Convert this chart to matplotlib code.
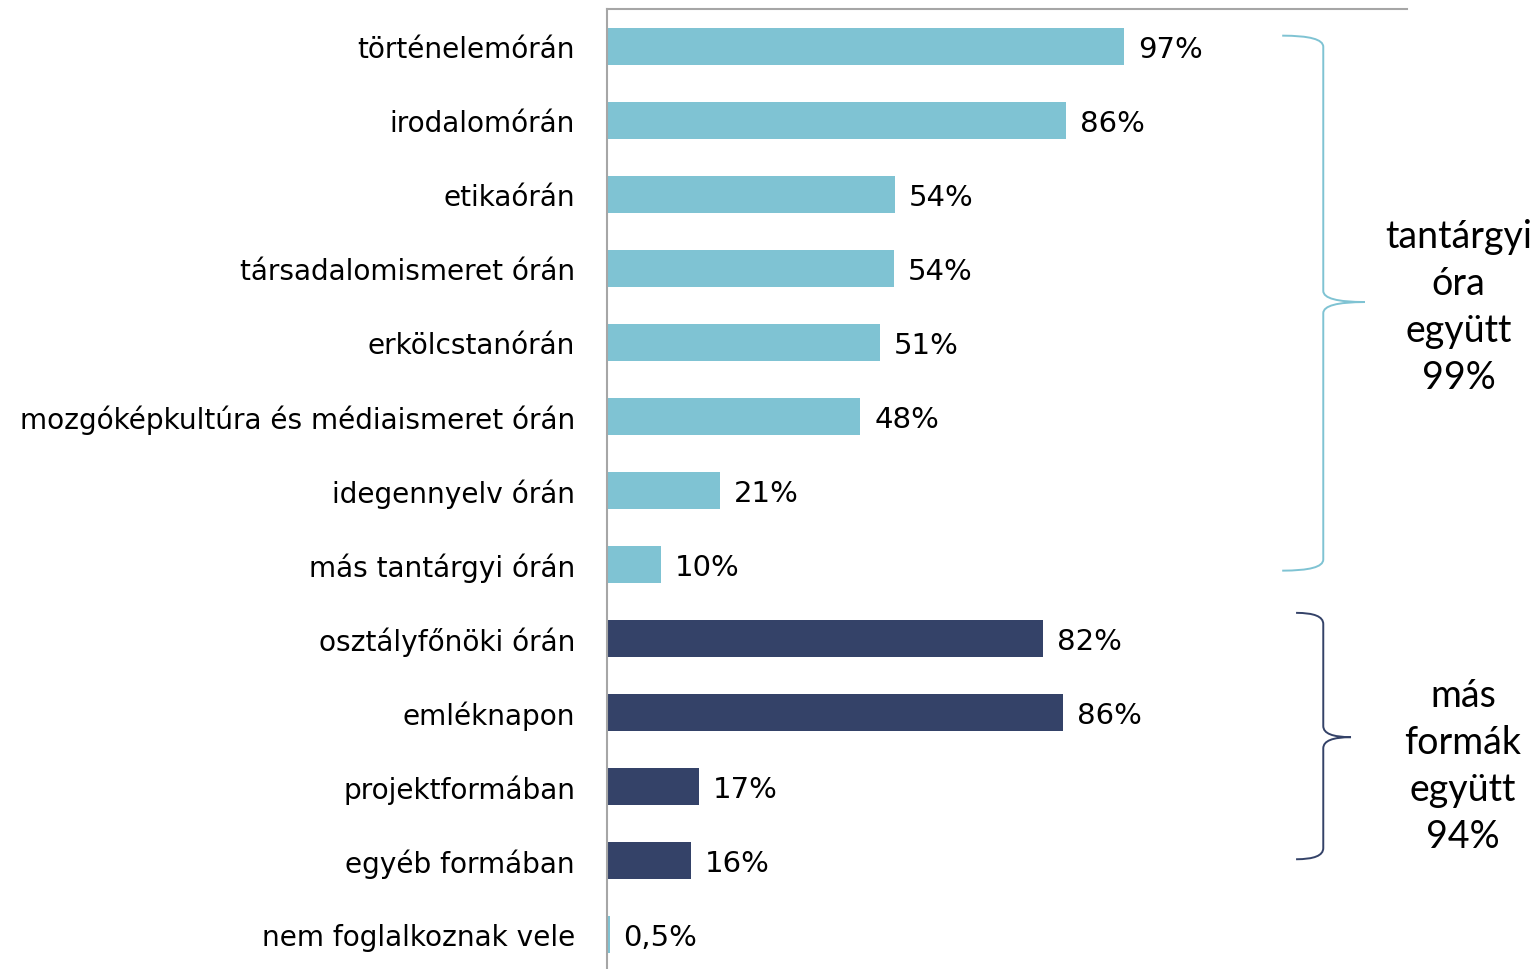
import matplotlib.pyplot as plt
from matplotlib.path import Path
from matplotlib.patches import PathPatch

# ── Data ────────────────────────────────────────────────────────────────────
categories = [
    "történelemórán", "irodalomórán", "etikaórán", "társadalomismeret órán",
    "erkölcstanórán", "mozgóképkultúra és médiaismeret órán", "idegennyelv órán",
    "más tantárgyi órán", "osztályfőnöki órán", "emléknapon", "projektformában",
    "egyéb formában", "nem foglalkoznak vele",
]
values = [97.0, 86.0, 54.0, 53.8, 51.2, 47.5, 21.2, 10.1, 81.7, 85.5, 17.2, 15.8, 0.5]
value_labels = ["97%", "86%", "54%", "54%", "51%", "48%", "21%", "10%",
                "82%", "86%", "17%", "16%", "0,5%"]
groups = ["tantargy"] * 8 + ["mas"] * 4 + ["tantargy"]

group_texts = ["tantárgyi\nóra\negyütt\n99%", "más\nformák\negyütt\n94%"]

LIGHT = "#7FC3D3"
NAVY = "#344268"
colors = [LIGHT if g == "tantargy" else NAVY for g in groups]

# ── Figure ──────────────────────────────────────────────────────────────────
fig = plt.figure(figsize=(15.39, 9.70), dpi=100)
ax = fig.add_axes([607 / 1539, -2 / 970, 800 / 1539, 962 / 970])

ypos = list(range(len(categories)))
ax.barh(ypos, values, height=0.5, color=colors)
ax.set_xlim(0, 150)
ax.set_ylim(len(categories) - 0.5, -0.5)

ax.set_yticks(ypos)
ax.set_yticklabels(categories, fontsize=20.2, family="DejaVu Sans")
ax.tick_params(axis="y", length=0, pad=23)
ax.set_xticks([])

for s in ["right", "bottom"]:
    ax.spines[s].set_visible(False)
for s in ["left", "top"]:
    ax.spines[s].set_color("#A6A6A6")
    ax.spines[s].set_linewidth(1.5)

for y, v, lab in zip(ypos, values, value_labels):
    ax.annotate(lab, (v, y), xytext=(10, -2), textcoords="offset points",
                va="center", ha="left", fontsize=21, family="DejaVu Sans")


# ── Curly braces ────────────────────────────────────────────────────────────
def brace(ax, x0, xv, xtip, ytop, ymid, ybot, color):
    d = 0.15
    verts = [
        (x0, ytop), (xv, ytop), (xv, ytop + d),
        (xv, ymid - d),
        (xv, ymid), (xtip, ymid),
        (xv, ymid), (xv, ymid + d),
        (xv, ybot - d),
        (xv, ybot), (x0, ybot),
    ]
    codes = [Path.MOVETO, Path.CURVE3, Path.CURVE3,
             Path.LINETO,
             Path.CURVE3, Path.CURVE3,
             Path.CURVE3, Path.CURVE3,
             Path.LINETO,
             Path.CURVE3, Path.CURVE3]
    ax.add_patch(PathPatch(Path(verts, codes), fill=False, edgecolor=color,
                           linewidth=1.4, clip_on=False))


brace(ax, 126.6, 134.3, 142.1, -0.14, 3.46, 7.09, LIGHT)
brace(ax, 129.2, 134.3, 139.5, 7.66, 9.34, 10.99, NAVY)

ax.text(159.7, 3.52, group_texts[0], ha="center", va="center", fontsize=27,
        family="Lato", linespacing=1.38, clip_on=False)
ax.text(160.5, 9.72, group_texts[1], ha="center", va="center", fontsize=27,
        family="Lato", linespacing=1.38, clip_on=False)

fig.savefig("out.png", dpi=100)
